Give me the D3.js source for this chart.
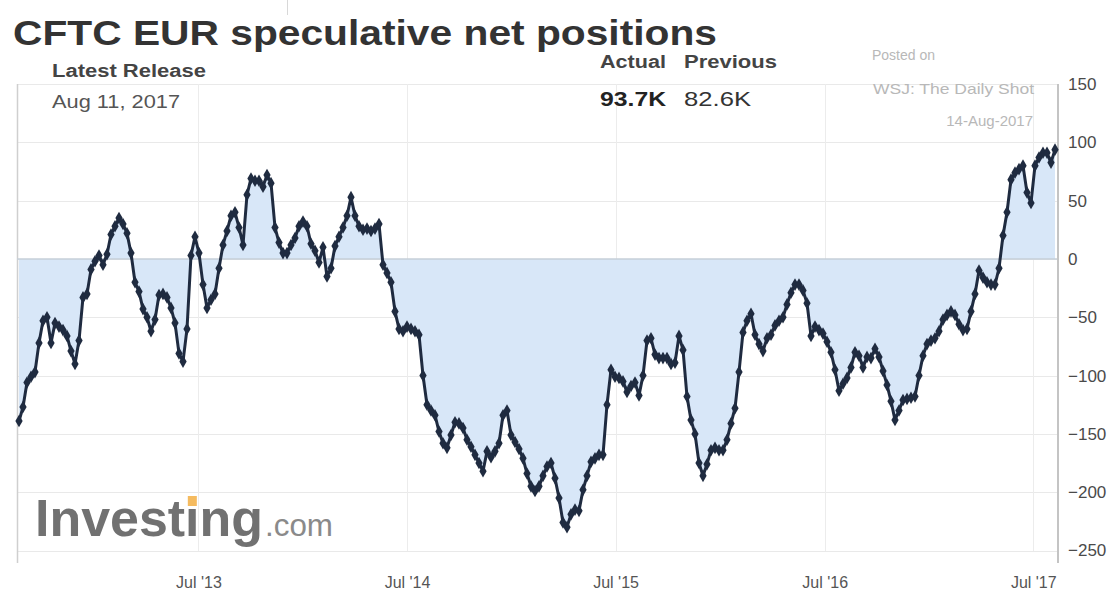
<!DOCTYPE html>
<html>
<head>
<meta charset="utf-8">
<script src="https://cdn.jsdelivr.net/npm/d3@7"></script>
<style>
  body { margin: 0; background: #fff; }
  svg { display: block; font-family: "Liberation Sans", Arial, Helvetica, sans-serif; }
</style>
</head>
<body>
<svg id="chart" width="1110" height="592"></svg>
<script>
// Weekly CFTC EUR speculative net positions (thousand contracts), one value per Tuesday report
const firstReport = "2012-08-21";
const netPositions = [
  -139, -127, -106, -101, -97, -72, -53, -50, -72, -55,
  -58, -61, -66, -79, -90, -70, -33, -30, -9, -2,
  3, -5, 4, 21, 28, 35, 30, 22, 5, -20,
  -28, -43, -50, -62, -52, -31, -30, -33, -42, -55,
  -81, -88, -60, 3, 19, 5, -22, -42, -35, -30,
  -8, 12, 24, 37, 40, 27, 12, 55, 69, 67,
  67, 62, 72, 65, 27, 14, 5, 5, 12, 18,
  28, 32, 28, 13, 7, -3, 10, -15, -8, 11,
  19, 27, 37, 53, 37, 28, 25, 26, 24, 26,
  30, -5, -12, -20, -45, -60, -62, -58, -60, -62,
  -65, -100, -125, -130, -134, -148, -158, -162, -151, -140,
  -141, -145, -155, -161, -168, -175, -182, -165, -170, -165,
  -158, -134, -130, -151, -157, -163, -171, -184, -195, -199,
  -195, -186, -178, -175, -188, -205, -226, -230, -219, -215,
  -216, -198, -186, -174, -171, -168, -168, -125, -95, -101,
  -102, -105, -114, -109, -106, -117, -100, -70, -68, -82,
  -85, -85, -85, -90, -89, -66, -78, -118, -138, -150,
  -175, -186, -176, -164, -162, -164, -164, -155, -141, -128,
  -97, -63, -53, -47, -65, -73, -79, -68, -65, -57,
  -53, -50, -39, -29, -22, -22, -27, -38, -66, -58,
  -61, -64, -71, -80, -95, -113, -107, -102, -93, -80,
  -83, -93, -84, -85, -77, -84, -96, -108, -122, -138,
  -130, -121, -120, -119, -118, -100, -83, -73, -70, -68,
  -62, -52, -48, -45, -48, -56, -61, -60, -45, -30,
  -10, -16, -20, -22, -22, -8, 20, 40, 68, 74,
  77, 80, 57, 48, 80, 87, 91, 91, 82.6, 93.7
];

// Axis ticks
const yTickValues = [150, 100, 50, 0, -50, -100, -150, -200, -250];
const xTickDates = ["2013-07-01", "2014-07-01", "2015-07-01", "2016-07-01", "2017-07-01"];
const xTickLabels = ["Jul '13", "Jul '14", "Jul '15", "Jul '16", "Jul '17"];

// Header texts
const chartTitle = "CFTC EUR speculative net positions";
const releaseLabel = "Latest Release";
const releaseDate = "Aug 11, 2017";
const actualLabel = "Actual";
const previousLabel = "Previous";
const actualValue = "93.7K";
const previousValue = "82.6K";
const sourceLines = ["Posted on", "WSJ: The Daily Shot", "14-Aug-2017"];

const parseDate = d3.timeParse("%Y-%m-%d");
const start = parseDate(firstReport);
const series = netPositions.map((v, i) => ({ date: d3.timeDay.offset(start, 7 * i), value: v }));

const svg = d3.select("#chart");
const box = { left: 17, right: 1058, top: 84, bottom: 551 };

const x = d3.scaleTime()
  .domain([series[0].date, series[series.length - 1].date])
  .range([19, 1055]);
const y = d3.scaleLinear().domain([-250, 150]).range([550.5, 84]);

// Stray separator line at the very top
svg.append("line").attr("x1", 287.5).attr("x2", 287.5).attr("y1", 0).attr("y2", 15)
  .attr("stroke", "#d8d8d8").attr("stroke-width", 1);

// Grid
const grid = svg.append("g");
grid.selectAll("line.h").data(yTickValues).join("line")
  .attr("class", "h")
  .attr("x1", box.left).attr("x2", box.right)
  .attr("y1", d => Math.round(y(d)) + 0.5).attr("y2", d => Math.round(y(d)) + 0.5)
  .attr("stroke", "#e9e9e9").attr("stroke-width", 1);
grid.selectAll("line.v").data(xTickDates).join("line")
  .attr("class", "v")
  .attr("x1", d => Math.round(x(parseDate(d))) + 0.5).attr("x2", d => Math.round(x(parseDate(d))) + 0.5)
  .attr("y1", box.top).attr("y2", box.bottom)
  .attr("stroke", "#ececec").attr("stroke-width", 1);

// Left frame edge
svg.append("line").attr("x1", box.left + 0.5).attr("x2", box.left + 0.5)
  .attr("y1", box.top).attr("y2", box.bottom + 12)
  .attr("stroke", "#cfcfcf").attr("stroke-width", 1.5);

// Area between the series and zero
const area = d3.area()
  .x(d => x(d.date))
  .y0(y(0))
  .y1(d => y(d.value));
svg.append("path").datum(series)
  .attr("d", area)
  .attr("fill", "#d8e7f8");

// Zero line
svg.append("line").attr("x1", box.left).attr("x2", box.right)
  .attr("y1", y(0)).attr("y2", y(0))
  .attr("stroke", "#c6cfd9").attr("stroke-width", 1.5);

// Watermark logo
const logo = svg.append("g").attr("opacity", 0.88);
const logoWord = logo.append("text")
  .attr("x", 35).attr("y", 536)
  .attr("font-size", 52).attr("font-weight", "bold")
  .attr("fill", "#5e5e5e")
  .attr("textLength", 228).attr("lengthAdjust", "spacingAndGlyphs")
  .text("Investing");
logo.append("text")
  .attr("x", 265).attr("y", 536)
  .attr("font-size", 31)
  .attr("fill", "#7a7a7a")
  .attr("textLength", 68).attr("lengthAdjust", "spacingAndGlyphs")
  .text(".com");
// orange tittle over the second "i"
const iBox = logoWord.node().getExtentOfChar(6);
logo.append("rect")
  .attr("x", iBox.x + iBox.width / 2 - 4.5).attr("y", 496)
  .attr("width", 9).attr("height", 10)
  .attr("fill", "#f4b24a");

// Right axis
const yAxis = d3.axisRight(y).tickValues(yTickValues).tickSize(0).tickPadding(10);
const yAxisG = svg.append("g").attr("transform", `translate(${box.right},0)`).call(yAxis);
yAxisG.select(".domain").remove();
yAxisG.selectAll("text")
  .attr("font-family", "\"Liberation Sans\", Arial, sans-serif")
  .attr("font-size", 17).attr("fill", "#4a4a4a");
svg.append("line").attr("x1", box.right).attr("x2", box.right)
  .attr("y1", box.top).attr("y2", box.bottom + 12)
  .attr("stroke", "#c4c4c4").attr("stroke-width", 2);

// Bottom axis
const xAxis = d3.axisBottom(x)
  .tickValues(xTickDates.map(parseDate))
  .tickFormat((d, i) => xTickLabels[i])
  .tickSize(0).tickPadding(0);
const xAxisG = svg.append("g").attr("transform", "translate(0,577)").call(xAxis);
xAxisG.select(".domain").remove();
xAxisG.selectAll("text")
  .attr("font-family", "\"Liberation Sans\", Arial, sans-serif")
  .attr("font-size", 16).attr("fill", "#555")
  .attr("dy", "0.71em");

// Series line with weekly markers
const line = d3.line().x(d => x(d.date)).y(d => y(d.value));
svg.append("path").datum(series)
  .attr("d", line)
  .attr("fill", "none")
  .attr("stroke", "#1f2b40")
  .attr("stroke-width", 3)
  .attr("stroke-linejoin", "round");
svg.append("g").selectAll("path").data(series).join("path")
  .attr("transform", d => `translate(${x(d.date)},${y(d.value)})`)
  .attr("d", d3.symbol(d3.symbolDiamond, 46))
  .attr("fill", "#1f2b40");

// Header
svg.append("text")
  .attr("x", 13).attr("y", 45)
  .attr("font-size", 35).attr("font-weight", "bold").attr("fill", "#333")
  .attr("textLength", 704).attr("lengthAdjust", "spacingAndGlyphs")
  .text(chartTitle);

svg.append("text")
  .attr("x", 52).attr("y", 77)
  .attr("font-size", 18).attr("font-weight", "bold").attr("fill", "#444")
  .attr("textLength", 154).attr("lengthAdjust", "spacingAndGlyphs")
  .text(releaseLabel);
svg.append("text")
  .attr("x", 52).attr("y", 108)
  .attr("font-size", 18).attr("fill", "#555")
  .attr("textLength", 128).attr("lengthAdjust", "spacingAndGlyphs")
  .text(releaseDate);

svg.append("text")
  .attr("x", 600).attr("y", 68)
  .attr("font-size", 18).attr("font-weight", "bold").attr("fill", "#444")
  .attr("textLength", 66).attr("lengthAdjust", "spacingAndGlyphs")
  .text(actualLabel);
svg.append("text")
  .attr("x", 684).attr("y", 68)
  .attr("font-size", 18).attr("font-weight", "bold").attr("fill", "#444")
  .attr("textLength", 93).attr("lengthAdjust", "spacingAndGlyphs")
  .text(previousLabel);
svg.append("text")
  .attr("x", 600).attr("y", 106)
  .attr("font-size", 21).attr("font-weight", "bold").attr("fill", "#222")
  .attr("textLength", 66).attr("lengthAdjust", "spacingAndGlyphs")
  .text(actualValue);
svg.append("text")
  .attr("x", 684).attr("y", 106)
  .attr("font-size", 21).attr("fill", "#333")
  .attr("textLength", 67).attr("lengthAdjust", "spacingAndGlyphs")
  .text(previousValue);

svg.append("text")
  .attr("x", 872).attr("y", 60)
  .attr("font-size", 14).attr("fill", "#b8b8b8")
  .text(sourceLines[0]);
svg.append("text")
  .attr("x", 873).attr("y", 94)
  .attr("font-size", 15).attr("fill", "#b8b8b8")
  .attr("textLength", 161).attr("lengthAdjust", "spacingAndGlyphs")
  .text(sourceLines[1]);
svg.append("text")
  .attr("x", 1033).attr("y", 126)
  .attr("font-size", 15).attr("fill", "#b8b8b8")
  .attr("text-anchor", "end")
  .text(sourceLines[2]);
</script>
</body>
</html>
